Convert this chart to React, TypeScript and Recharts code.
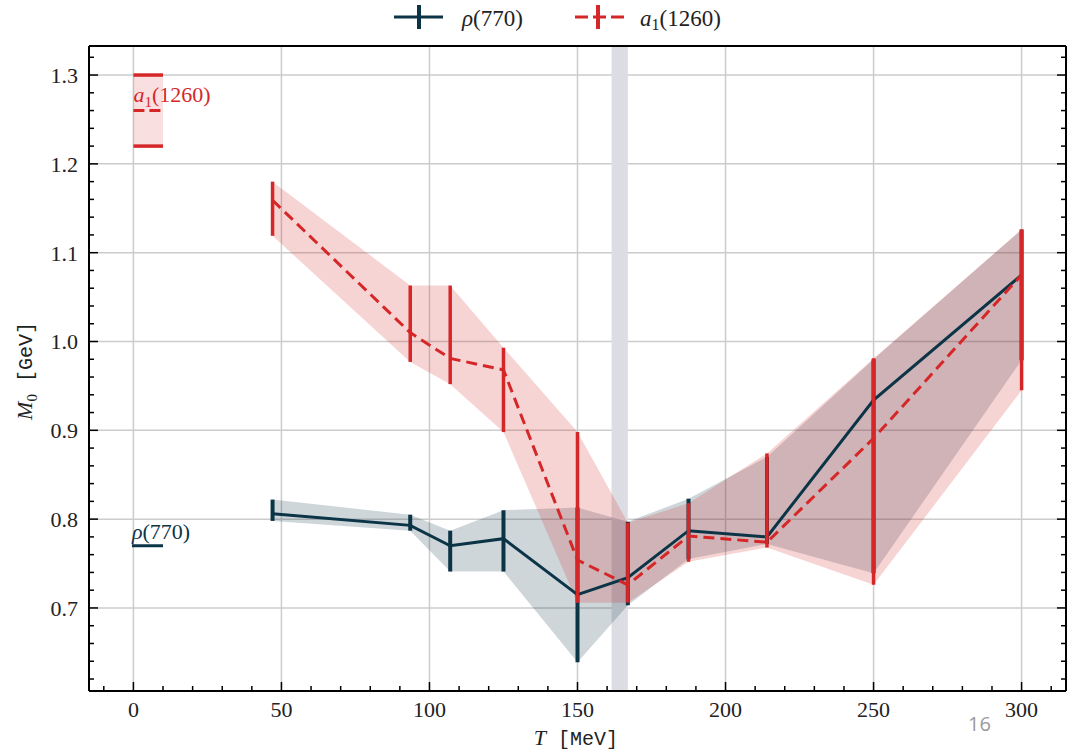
import React from 'react';
import {
  ComposedChart, Area, Line, ErrorBar, XAxis, YAxis, CartesianGrid,
  ReferenceArea, ReferenceLine,
} from 'recharts';

const NAVY = '#0b3447';
const RED = '#d62728';
const SERIF = '"Liberation Serif", "DejaVu Serif", serif';
const MONO = '"Liberation Mono", "DejaVu Sans Mono", monospace';

// temperatures (MeV)
const temps = [47, 93.5, 107, 125, 150, 167, 187.5, 214, 250, 300];

// rho(770) mass and band (GeV)
const rhoMass = [0.806, 0.793, 0.770, 0.778, 0.715, 0.734, 0.787, 0.780, 0.934, 1.075];
const rhoLow = [0.798, 0.787, 0.741, 0.741, 0.639, 0.703, 0.755, 0.772, 0.739, 0.979];
const rhoHigh = [0.822, 0.805, 0.787, 0.810, 0.813, 0.797, 0.823, 0.870, 0.980, 1.126];

// a1(1260) mass and band (GeV)
const a1Mass = [1.159, 1.010, 0.981, 0.968, 0.754, 0.726, 0.781, 0.774, 0.891, 1.075];
const a1Low = [1.119, 0.977, 0.952, 0.898, 0.706, 0.706, 0.752, 0.768, 0.726, 0.945];
const a1High = [1.180, 1.063, 1.063, 0.993, 0.898, 0.796, 0.818, 0.874, 0.981, 1.126];

// vacuum values shown at T = 0
const rhoVacuum = 0.77;
const a1Vacuum = [1.22, 1.26, 1.30];

// pseudo-critical temperature band
const tcBand = [161.5, 167];

const xTicks = Array.from({ length: 33 }, (_, i) => -10 + i * 10);
const xMajor = [0, 50, 100, 150, 200, 250, 300];
const yTicks = Array.from({ length: 36 }, (_, i) => (62 + i * 2) / 100);
const yMajor = [0.7, 0.8, 0.9, 1.0, 1.1, 1.2, 1.3];

const X_DOMAIN = [-15, 315];
const Y_DOMAIN = [0.6065, 1.3327];

const rows = temps.map((T, i) => ({
  T,
  rho: rhoMass[i],
  rhoBand: [rhoLow[i], rhoHigh[i]],
  rhoErr: [rhoMass[i] - rhoLow[i], rhoHigh[i] - rhoMass[i]],
  a1: a1Mass[i],
  a1Band: [a1Low[i], a1High[i]],
  a1Err: [a1Mass[i] - a1Low[i], a1High[i] - a1Mass[i]],
}));

const isXMajor = (v: number) => Math.round(v) % 50 === 0;
const isYMajor = (v: number) => Math.round(v * 100) % 10 === 0;

const BottomTick = ({ x, y, payload }: any) => {
  const major = isXMajor(payload.value);
  return (
    <g>
      <line x1={x} y1={y} x2={x} y2={y - (major ? 9 : 5)} stroke="#000" strokeWidth={1.5} />
      {major && (
        <text x={x} y={y + 26} textAnchor="middle" fontFamily={SERIF} fontSize={22} fill="#222">
          {payload.value}
        </text>
      )}
    </g>
  );
};

const TopTick = ({ x, y, payload }: any) => (
  <line x1={x} y1={y} x2={x} y2={y + (isXMajor(payload.value) ? 9 : 5)} stroke="#000" strokeWidth={1.5} />
);

const LeftTick = ({ x, y, payload }: any) => {
  const major = isYMajor(payload.value);
  return (
    <g>
      <line x1={x} y1={y} x2={x + (major ? 9 : 5)} y2={y} stroke="#000" strokeWidth={1.5} />
      {major && (
        <text x={x - 11} y={y + 8} textAnchor="end" fontFamily={SERIF} fontSize={22} fill="#222">
          {payload.value.toFixed(1)}
        </text>
      )}
    </g>
  );
};

const RightTick = ({ x, y, payload }: any) => (
  <line x1={x} y1={y} x2={x - (isYMajor(payload.value) ? 9 : 5)} y2={y} stroke="#000" strokeWidth={1.5} />
);

const rhoLabel = ({ viewBox }: any) => (
  <text x={viewBox.x} y={viewBox.y - 7} fontFamily={SERIF} fontSize={22} fill={NAVY}>
    <tspan fontStyle="italic">ρ</tspan>(770)
  </text>
);

const a1Label = ({ viewBox }: any) => (
  <text x={viewBox.x} y={viewBox.y - 9} fontFamily={SERIF} fontSize={22} fill={RED}>
    <tspan fontStyle="italic">a</tspan>
    <tspan fontSize={15} dy={5}>1</tspan>
    <tspan dy={-5}>(1260)</tspan>
  </text>
);

const Overlay = () => (
  <svg width={1076} height={750} style={{ position: 'absolute', left: 0, top: 0, pointerEvents: 'none' }}>
    {/* legend */}
    <line x1={394} y1={17} x2={443} y2={17} stroke={NAVY} strokeWidth={3} />
    <line x1={419} y1={5} x2={419} y2={29} stroke={NAVY} strokeWidth={4} />
    <text x={462} y={26} fontFamily={SERIF} fontSize={23} fill="#222">
      <tspan fontStyle="italic">ρ</tspan>(770)
    </text>
    <line x1={575} y1={17} x2={625} y2={17} stroke={RED} strokeWidth={3} strokeDasharray="13 5" />
    <line x1={598} y1={5} x2={598} y2={29} stroke={RED} strokeWidth={4} />
    <text x={640} y={26} fontFamily={SERIF} fontSize={23} fill="#222">
      <tspan fontStyle="italic">a</tspan>
      <tspan fontSize={16} dy={4}>1</tspan>
      <tspan dy={-4}>(1260)</tspan>
    </text>

    {/* axis titles */}
    <text x={576} y={745} textAnchor="middle" fill="#222">
      <tspan fontFamily={SERIF} fontStyle="italic" fontSize={22}>T</tspan>
      <tspan fontFamily={MONO} fontSize={20}>{'\u00a0[MeV]'}</tspan>
    </text>
    <text x={32} y={371} textAnchor="middle" fill="#222" transform="rotate(-90 32 371)">
      <tspan fontFamily={SERIF} fontStyle="italic" fontSize={22}>M</tspan>
      <tspan fontFamily={SERIF} fontSize={15} dy={5}>0</tspan>
      <tspan fontFamily={MONO} fontSize={20} dy={-5}>{'\u00a0[GeV]'}</tspan>
    </text>

    <text x={968} y={731} fontFamily='"Open Sans", sans-serif' fontSize={20} fill="#9a9a9a">16</text>
  </svg>
);

export default function App() {
  return (
    <div style={{ position: 'absolute', left: 0, top: 0, width: 1076, height: 750, background: '#fff' }}>
      <ComposedChart width={1076} height={750} data={rows} margin={{ top: 36, right: 0, bottom: 29, left: 29 }}>
        <ReferenceArea x1={tcBand[0]} x2={tcBand[1]} fill="#dcdde2" fillOpacity={1} stroke="none" />
        <CartesianGrid verticalValues={xMajor} horizontalValues={yMajor} stroke="#cccccc" strokeWidth={1.5} />
        <XAxis
          type="number" dataKey="T" domain={X_DOMAIN} ticks={xTicks} interval={0} allowDataOverflow
          height={30} tickSize={0} tickMargin={0} tickLine={false} tick={<BottomTick />}
          axisLine={{ stroke: '#000', strokeWidth: 2 }}
        />
        <XAxis
          xAxisId="top" orientation="top" type="number" domain={X_DOMAIN} ticks={xTicks} interval={0}
          allowDataOverflow height={10} tickSize={0} tickMargin={0} tickLine={false} tick={<TopTick />}
          axisLine={{ stroke: '#000', strokeWidth: 2 }}
        />
        <YAxis
          type="number" domain={Y_DOMAIN} ticks={yTicks} interval={0} allowDataOverflow
          width={60} tickSize={0} tickMargin={0} tickLine={false} tick={<LeftTick />}
          axisLine={{ stroke: '#000', strokeWidth: 2 }}
        />
        <YAxis
          yAxisId="right" orientation="right" type="number" domain={Y_DOMAIN} ticks={yTicks}
          interval={0} allowDataOverflow width={10} tickSize={0} tickMargin={0} tickLine={false}
          tick={<RightTick />} axisLine={{ stroke: '#000', strokeWidth: 2 }}
        />

        {/* vacuum reference values */}
        <ReferenceArea x1={0} x2={10} y1={a1Vacuum[0]} y2={a1Vacuum[2]} fill={RED} fillOpacity={0.15} stroke="none" />
        <ReferenceLine segment={[{ x: 0, y: a1Vacuum[2] }, { x: 10, y: a1Vacuum[2] }]} stroke={RED} strokeWidth={3.5} />
        <ReferenceLine segment={[{ x: 0, y: a1Vacuum[0] }, { x: 10, y: a1Vacuum[0] }]} stroke={RED} strokeWidth={3.5} />
        <ReferenceLine
          segment={[{ x: 0, y: a1Vacuum[1] }, { x: 10, y: a1Vacuum[1] }]}
          stroke={RED} strokeWidth={3} strokeDasharray="11 5" label={a1Label}
        />
        <ReferenceLine
          segment={[{ x: -0.5, y: rhoVacuum }, { x: 10, y: rhoVacuum }]}
          stroke={NAVY} strokeWidth={3} label={rhoLabel}
        />

        <Area type="linear" dataKey="rhoBand" stroke="none" fill={NAVY} fillOpacity={0.2} isAnimationActive={false} />
        <Area type="linear" dataKey="a1Band" stroke="none" fill={RED} fillOpacity={0.2} isAnimationActive={false} />

        <Line type="linear" dataKey="rho" stroke={NAVY} strokeWidth={3} dot={false} isAnimationActive={false}>
          <ErrorBar dataKey="rhoErr" direction="y" width={0} stroke={NAVY} strokeWidth={4} />
        </Line>
        <Line
          type="linear" dataKey="a1" stroke={RED} strokeWidth={3} strokeDasharray="11 6" dot={false}
          isAnimationActive={false}
        >
          <ErrorBar dataKey="a1Err" direction="y" width={0} stroke={RED} strokeWidth={3.5} />
        </Line>
      </ComposedChart>
      <Overlay />
    </div>
  );
}
